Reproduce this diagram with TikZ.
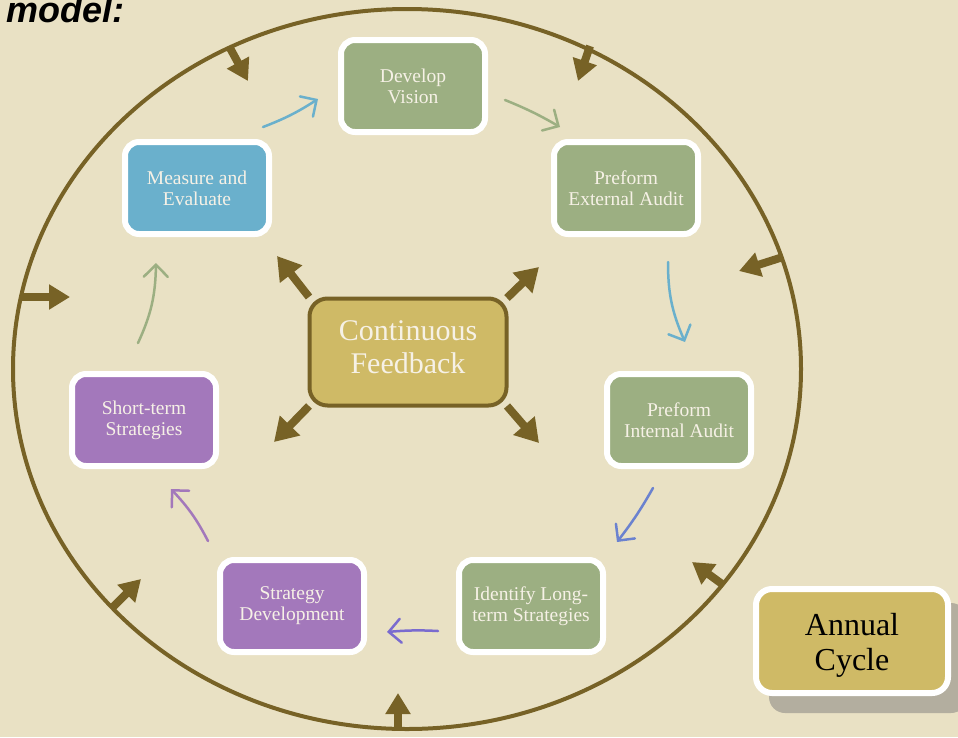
\documentclass[tikz,border=0pt]{standalone}
\usepackage{fontspec}
\setmainfont{Liberation Serif}
\newfontfamily\titlefont{Liberation Sans}
\usetikzlibrary{arrows.meta,bending}
\definecolor{bgc}{HTML}{E9E1C4}
\definecolor{olive}{HTML}{776226}
\definecolor{gbox}{HTML}{9CAF82}
\definecolor{bbox}{HTML}{6AB0CC}
\definecolor{pbox}{HTML}{A378BB}
\definecolor{gold}{HTML}{CFBA66}
\definecolor{shad}{HTML}{B3AE9F}
\definecolor{txtw}{HTML}{F6F1E6}
\definecolor{arrindigo}{HTML}{6B82CF}
\definecolor{arrviolet}{HTML}{7A6BCF}
\begin{document}
\begin{tikzpicture}[x=1pt,y=-1pt,
  stepbox/.style={draw=white, line width=6pt, rounded corners=14pt, minimum width=144pt, minimum height=92pt, text=txtw, align=center, font=\fontsize{19.5}{21}\selectfont, inner sep=0pt},
  steptext/.style={text=txtw, align=center, font=\fontsize{19.5}{21}\selectfont, inner sep=0pt},
  fb/.style={olive, line width=8pt, -{Triangle[width=27pt,length=23pt]}},
  eb/.style={olive, line width=8pt, -{Triangle[width=24pt,length=21pt]}},
  thin/.style={line width=2.5pt, line cap=round, -{Straight Barb[length=12pt,width=24pt,line cap=round]}}
]
\clip (0,0) rectangle (958,737);
\fill[bgc] (0,0) rectangle (958,737);

% title
\node[anchor=base west, inner sep=0pt, font=\titlefont\bfseries\itshape\fontsize{36}{40}\selectfont] (title) at (6,22) {model:};

% big cycle ellipse
\draw[olive, line width=4pt] (407,369) ellipse [x radius=394pt, y radius=360pt];

% inward arrows on the ellipse
\coordinate (e1s) at (230,48);  \coordinate (e1t) at (248,81);
\coordinate (e2s) at (590,46);  \coordinate (e2t) at (578,81);
\coordinate (e3s) at (783,257); \coordinate (e3t) at (739,271);
\coordinate (e4s) at (22,297);  \coordinate (e4t) at (70,297);
\coordinate (e5s) at (398,731); \coordinate (e5t) at (398,693);
\coordinate (e6s) at (113,607); \coordinate (e6t) at (141,579);
\coordinate (e7s) at (722,584); \coordinate (e7t) at (692,562);
\foreach \i in {1,...,7} {\draw[eb] (e\i s) -- (e\i t);}

% step boxes
\node[stepbox, fill=gbox] (dv) at (413,86) {Develop\\Vision};
\node[stepbox, fill=gbox] (ea) at (626,188) {Preform\\External Audit};
\node[stepbox, fill=gbox] (ia) at (679,420) {Preform\\Internal Audit};
\node[stepbox, fill=gbox] (ls) at (531,606) {Identify Long-\\term Strategies};
\node[stepbox, fill=pbox] (sd) at (292,606) {Strategy\\Development};
\node[stepbox, fill=pbox] (ss) at (144,420) {Short-term\\Strategies};
\node[stepbox, fill=bbox] (me) at (197,188) {Measure and\\Evaluate};

% centre
\node[draw=olive, line width=4pt, fill=gold, rounded corners=18pt, minimum width=197pt, minimum height=107pt, inner sep=0pt] (cf) at (408,352) {};
\node[align=center, inner sep=0pt, text=txtw, font=\fontsize{30}{33}\selectfont] (cftext) at (408,347) {Continuous\\Feedback};

% feedback arrows
\coordinate (f1s) at (309,297); \coordinate (f1t) at (277,256);
\coordinate (f2s) at (507,298); \coordinate (f2t) at (539,267);
\coordinate (f3s) at (309,406); \coordinate (f3t) at (274,442);
\coordinate (f4s) at (507,406); \coordinate (f4t) at (539,443);
\foreach \i in {1,...,4} {\draw[fb] (f\i s) -- (f\i t);}

% cycle connectors
\coordinate (c1s) at (263,127); \coordinate (c1t) at (318,99);
\coordinate (c2s) at (505,100); \coordinate (c2t) at (560,127);
\coordinate (c3s) at (668,262); \coordinate (c3t) at (685,342);
\coordinate (c4s) at (653,488); \coordinate (c4t) at (617,542);
\coordinate (c5s) at (438,631); \coordinate (c5t) at (387,632);
\coordinate (c6s) at (208,541); \coordinate (c6t) at (171,489);
\coordinate (c7s) at (138,343); \coordinate (c7t) at (156,263);
\draw[thin, bbox] (c1s) to[bend right=6] (c1t);
\draw[thin, gbox] (c2s) to[bend left=4] (c2t);
\draw[thin, bbox] (c3s) to[bend right=12] (c3t);
\draw[thin, arrindigo] (c4s) to[bend left=4] (c4t);
\draw[thin, arrviolet] (c5s) to[bend right=4] (c5t);
\draw[thin, pbox] (c6s) to[bend right=8] (c6t);
\draw[thin, gbox] (c7s) to[bend right=12] (c7t);

% annual cycle legend
\fill[shad, rounded corners=16pt] (769,603) rectangle (967,713);
\node[draw=white, line width=6pt, fill=gold, rounded corners=16pt, minimum width=192pt, minimum height=104pt, inner sep=0pt] (ac) at (852,641) {};
\node[align=center, inner sep=0pt, text=black, font=\fontsize{32}{35}\selectfont] (actext) at (852,645) {Annual\\Cycle};
\end{tikzpicture}
\end{document}
